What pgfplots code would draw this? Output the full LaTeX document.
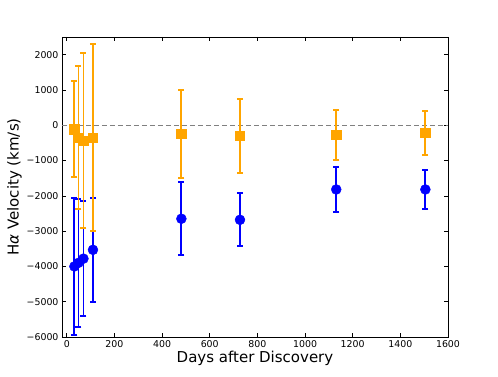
\documentclass[border=0pt]{standalone}
\usepackage{fontspec}
\setmainfont{DejaVu Sans}
\usepackage{pgfplots}
\pgfplotsset{compat=1.18}
\usepackage{pgfplotstable}

% days, velocity, error
\pgfplotstableread{
x y e
32 -4000 1940
49 -3900 1820
70 -3780 1635
110 -3530 1470
481 -2650 1030
727 -2680 750
1131 -1820 630
1505 -1820 545
}\blueset
\pgfplotstableread{
x y e
32 -110 1350
49 -350 2035
70 -430 2480
110 -350 2640
481 -240 1250
727 -305 1060
1131 -265 710
1505 -218 635
}\orangeset

\definecolor{mplorange}{RGB}{255,165,0}
\definecolor{mplblue}{RGB}{0,0,255}

\begin{document}
\begin{tikzpicture}
\begin{axis}[
  scale only axis, width=386pt, height=300pt,
  xmin=-20, xmax=1600, ymin=-6000, ymax=2500,
  xtick={0,200,...,1600},
  ytick={-6000,-5000,...,2000},
  yticklabels={−6000,−5000,−4000,−3000,−2000,−1000,0,1000,2000},
  /pgf/number format/assume math mode=true,
  /pgf/number format/1000 sep={},
  tick label style={font=\fontsize{9.4}{11}\selectfont},
  label style={font=\fontsize{15}{18}\selectfont},
  xlabel={Days after Discovery},
  ylabel={H{\itshape α} Velocity (km/s)},
  xlabel style={yshift=3pt},
  ylabel style={yshift=-2pt},
  major tick length=4pt,
  tick style={black, line width=0.6pt},
  axis line style={black, line width=0.9pt},
  clip=false,
]
\addplot[gray, line width=0.8pt, dash pattern=on 5pt off 3pt] coordinates {(-20,0) (1600,0)};
\addplot[mplblue, only marks, mark=*, mark size=5pt,
  error bars/.cd, y dir=both, y explicit,
  error bar style={line width=1.8pt, mplblue},
  error mark options={mplblue, line width=2pt, mark size=3pt, rotate=90}]
  table[x=x, y=y, y error=e] {\blueset};
\addplot[mplorange, only marks, mark=square*, mark size=4.7pt,
  error bars/.cd, y dir=both, y explicit,
  error bar style={line width=1.8pt, mplorange},
  error mark options={mplorange, line width=2pt, mark size=3pt, rotate=90}]
  table[x=x, y=y, y error=e] {\orangeset};
\end{axis}
\useasboundingbox ([xshift=-62pt, yshift=-40pt]current axis.south west) rectangle ([xshift=50pt, yshift=37pt]current axis.north east);
\end{tikzpicture}
\end{document}
